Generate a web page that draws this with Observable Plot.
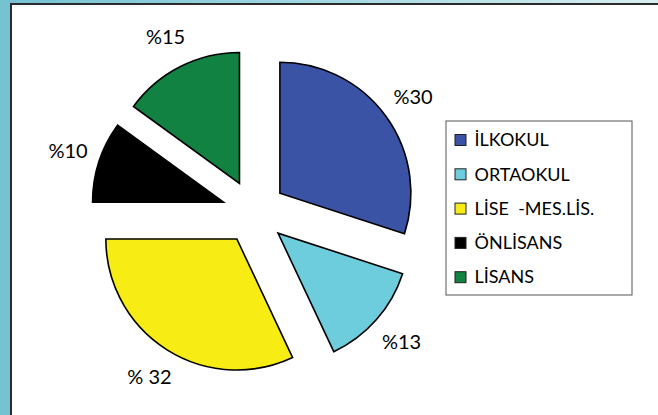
<!DOCTYPE html>
<html><head><meta charset="utf-8">
<script src="https://cdn.jsdelivr.net/npm/d3@7"></script>
<script src="https://cdn.jsdelivr.net/npm/@observablehq/plot@0.6"></script>
<style>
html,body{margin:0;padding:0;background:#fff;}
#wrap{position:relative;width:658px;height:415px;overflow:hidden;background:linear-gradient(90deg,#74c1d2 0%,#9fd6e1 45%,#d8eef0 100%);}
#panel{position:absolute;left:10px;top:3px;width:680px;height:440px;background:#fff;border-left:2px solid #2b2b2b;border-top:2px solid #2b2b2b;}
#chart{position:absolute;left:0;top:0;}
text{white-space:pre;}
</style></head>
<body><div id="wrap"><div id="panel"></div><div id="chart"></div></div>
<script>
const categories = ["İLKOKUL", "ORTAOKUL", "LİSE  -MES.LİS.", "ÖNLİSANS", "LİSANS"];
const values = [30, 13, 32, 10, 15];
const valueLabels = ["%30", "%13", "% 32", "%10", "%15"];
const colors = ["#3B53A4", "#6DCDDD", "#F7EC13", "#000000", "#118241"];

// layout
const W = 658, H = 415;
const cx = 254, cy = 212, R = 131, explode = 32, labelR = 196;

const arcs = d3.pie().sort(null).value(d => d)(values);
const slices = arcs.map((a, i) => {
  const mid = (a.startAngle + a.endAngle) / 2;
  return {
    cat: categories[i], a, mid,
    dx: Math.sin(mid) * explode, dy: -Math.cos(mid) * explode,
    label: valueLabels[i],
    lx: cx + Math.sin(mid) * labelR, ly: cy - Math.cos(mid) * labelR
  };
});

function pieMark(index, scales, vals, dimensions, context) {
  const g = d3.create("svg:g");
  const arc = d3.arc().innerRadius(0).outerRadius(R);
  for (const s of slices) {
    g.append("path")
      .attr("d", arc(s.a))
      .attr("transform", `translate(${scales.x(cx) + s.dx},${scales.y(cy) + s.dy})`)
      .attr("fill", scales.color(s.cat))
      .attr("stroke", "#000")
      .attr("stroke-width", 1.6)
      .attr("stroke-linejoin", "miter");
  }
  return g.node();
}

const legX1 = 446, legX2 = 632, legY1 = 121, legY2 = 295;
const rowY0 = 140, rowStep = 34.3;

const chart = Plot.plot({
  width: W, height: H,
  margin: 0,
  style: {fontFamily: "Lato, 'Open Sans', sans-serif", background: "transparent"},
  x: {type: "identity", axis: null},
  y: {type: "identity", axis: null},
  color: {domain: categories, range: colors},
  marks: [
    pieMark,
    Plot.text(slices, {x: "lx", y: "ly", text: "label", fontSize: 20, fill: "#000"}),
    Plot.rect([0], {x1: legX1, x2: legX2, y1: legY1, y2: legY2, fill: "#fff", stroke: "#555", strokeWidth: 1}),
    Plot.rect(categories, {
      x1: 455, x2: 466,
      y1: (d, i) => rowY0 + i * rowStep - 5.5, y2: (d, i) => rowY0 + i * rowStep + 5.5,
      fill: d => d, stroke: "#222", strokeWidth: 1
    }),
    Plot.text(categories, {
      x: 474, y: (d, i) => rowY0 + i * rowStep, text: d => d,
      textAnchor: "start", fontSize: 18, fill: "#000", style: "letter-spacing:0.4px"
    })
  ]
});
document.getElementById("chart").appendChild(chart);
</script>
</body></html>
